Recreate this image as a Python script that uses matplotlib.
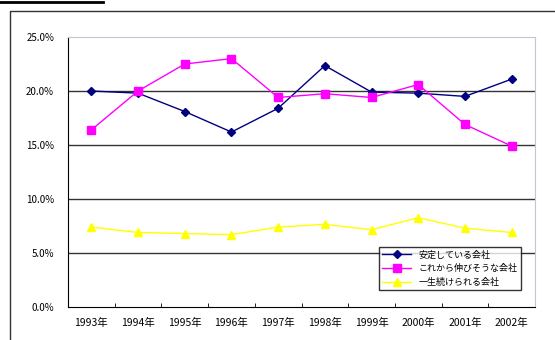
import numpy as np
import matplotlib.pyplot as plt
from matplotlib.lines import Line2D

plt.rcParams['font.family'] = ['Noto Sans CJK JP', 'DejaVu Sans']

years = ['1993年', '1994年', '1995年', '1996年', '1997年',
         '1998年', '1999年', '2000年', '2001年', '2002年']
antei = [20.0, 19.8, 18.1, 16.2, 18.4, 22.35, 19.9, 19.8, 19.5, 21.1]
nobisou = [16.4, 20.0, 22.5, 23.0, 19.4, 19.75, 19.4, 20.6, 16.9, 14.9]
tsuzuke = [7.4, 6.9, 6.8, 6.7, 7.4, 7.65, 7.15, 8.27, 7.3, 6.9]
labels = ['安定している会社', 'これから伸びそうな会社', '一生続けられる会社']

W, H = 555, 340
fig = plt.figure(figsize=(W / 100, H / 100), dpi=100)

# outer chart frame and the stub line at the top
fig.add_artist(Line2D([10 / W, 10 / W, 1], [0, 1 - 11 / H, 1 - 11 / H],
                      transform=fig.transFigure, color='#333333', lw=1))
fig.add_artist(Line2D([0, 103 / W], [1 - 1.5 / H, 1 - 1.5 / H],
                      transform=fig.transFigure, color='black', lw=2))

ax = fig.add_axes([68 / W, 33 / H, 467 / W, 270 / H])
x = np.arange(len(years))

ax.plot(x, antei, color='#000080', lw=1, marker='D', ms=4.5, label=labels[0])
ax.plot(x, nobisou, color='#FF00FF', lw=1, marker='s', ms=5.5, label=labels[1])
ax.plot(x, tsuzuke, color='#FFFF00', lw=1, marker='^', ms=6, label=labels[2])

ax.set_xlim(-0.5, len(years) - 0.5)
ax.set_ylim(0, 25)
ax.set_yticks(np.arange(0, 26, 5))
ax.set_yticklabels([f'{v:.1f}%' for v in np.arange(0, 26, 5)], fontsize=7)
for v in [5, 10, 15, 20]:
    ax.axhline(v, color='#333333', lw=1, zorder=0)

ax.set_xticks(x)
ax.set_xticklabels(years, fontsize=7.5)
ax.set_xticks(np.arange(0.5, len(years) - 0.5, 1), minor=True)
ax.tick_params(axis='x', which='major', length=0, pad=8)
ax.tick_params(axis='x', which='minor', length=3, direction='in', color='black')
ax.tick_params(axis='y', length=0, pad=10)

ax.spines['left'].set_color('black')
ax.spines['bottom'].set_color('black')
ax.spines['top'].set_color('#c4c4d4')
ax.spines['right'].set_color('#c4c4d4')

leg = ax.legend(loc='lower right', bbox_to_anchor=(0.98, 0.045), fontsize=6.5,
                frameon=True, fancybox=False, edgecolor='black',
                handlelength=3.2, borderpad=0.4, labelspacing=0.5)
leg.get_frame().set_linewidth(1)

fig.savefig('out.png', dpi=100)
